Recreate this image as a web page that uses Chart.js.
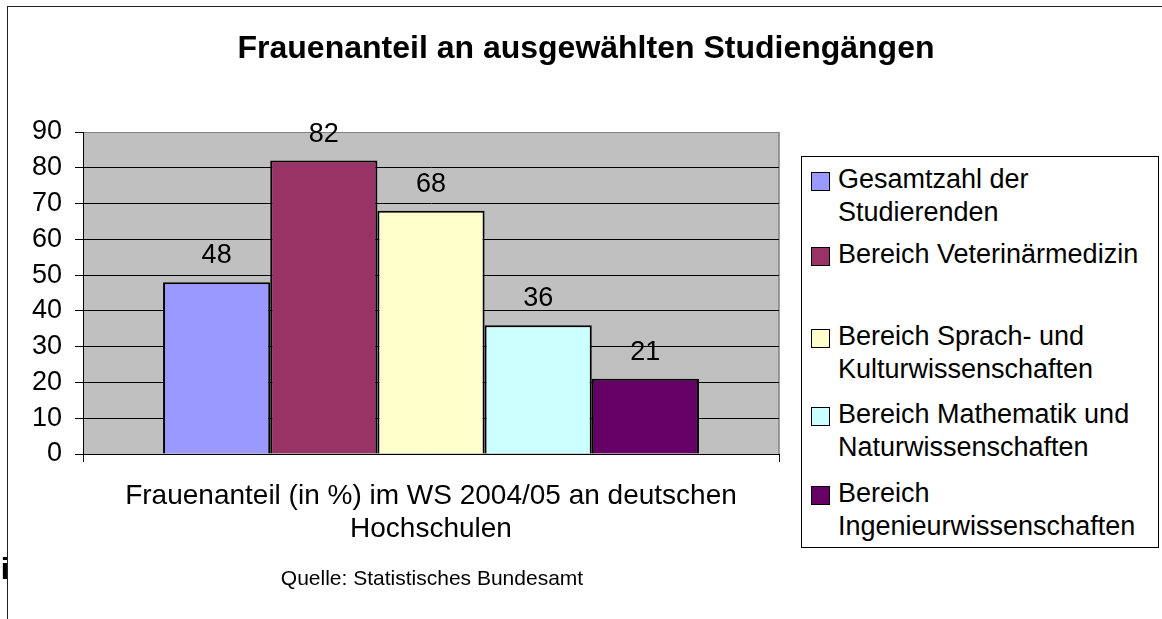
<!DOCTYPE html>
<html>
<head>
<meta charset="utf-8">
<script src="https://cdn.jsdelivr.net/npm/chart.js@4.4.0/dist/chart.umd.min.js"></script>
<style>
  body { margin: 0; background: #fff; font-family: "Liberation Sans", Arial, sans-serif; }
  #wrap { position: relative; width: 1162px; height: 619px; overflow: hidden; }
  #frame { position: absolute; left: 7px; top: 6px; width: 1300px; height: 800px; border-left: 1px solid #222; border-top: 1px solid #222; }
  #chartBox { position: absolute; left: 0; top: 0; width: 1162px; height: 619px; }
  #title { position: absolute; left: 7px; width: 1158px; top: 27px; line-height: 40px; font-size: 32px; font-weight: bold; text-align: center; color: #000; }
  #source { position: absolute; left: 232px; width: 400px; top: 566px; line-height: 24px; font-size: 21px; text-align: center; color: #000; }
  #cut { position: absolute; left: -100px; width: 109px; top: 554px; line-height: 30px; font-size: 30px; font-weight: bold; text-align: right; color: #000; }
  #legend { position: absolute; left: 801px; top: 156px; width: 356px; height: 390px; border: 1px solid #000; background: #fff; }
  .item { position: absolute; left: 0; width: 356px; font-size: 27px; line-height: 33px; color: #000; }
  .item .sw { position: absolute; left: 9px; top: 9px; width: 17px; height: 17px; border: 1px solid #000; }
  .item .txt { position: absolute; left: 36px; top: 0; white-space: nowrap; }
</style>
</head>
<body>
<div id="wrap">
  <div id="frame"></div>
  <div id="chartBox"><canvas id="chart-frauenanteil"></canvas></div>
  <div id="title"></div>
  <div id="source"></div>
  <div id="cut">bi</div>
  <div id="legend"></div>
</div>
<script>
// Data
var categories = [''];
var seriesNames = [
  ['Gesamtzahl der', 'Studierenden'],
  ['Bereich Veterinärmedizin'],
  ['Bereich Sprach- und', 'Kulturwissenschaften'],
  ['Bereich Mathematik und', 'Naturwissenschaften'],
  ['Bereich', 'Ingenieurwissenschaften']
];
var seriesValues = [48, 82, 68, 36, 21];
var yMin = 0, yMax = 90, yStep = 10;
var chartTitle = 'Frauenanteil an ausgewählten Studiengängen';
var xTitle = ['Frauenanteil (in %) im WS 2004/05 an deutschen', 'Hochschulen'];
var sourceText = 'Quelle: Statistisches Bundesamt';

// Styles
var colors = ['#9999ff', '#993366', '#ffffcc', '#ccffff', '#660066'];
var legendTops = [6, 81, 163, 241, 320]; // item tops inside the legend box
var fontFamily = '"Liberation Sans", Arial, sans-serif';

document.getElementById('title').textContent = chartTitle;
document.getElementById('source').textContent = sourceText;

// HTML legend (multi-line labels)
var legend = document.getElementById('legend');
seriesNames.forEach(function (lines, i) {
  var item = document.createElement('div');
  item.className = 'item';
  item.style.top = legendTops[i] + 'px';
  var sw = document.createElement('div');
  sw.className = 'sw';
  sw.style.background = colors[i];
  var txt = document.createElement('div');
  txt.className = 'txt';
  lines.forEach(function (line, j) {
    if (j > 0) txt.appendChild(document.createElement('br'));
    txt.appendChild(document.createTextNode(line));
  });
  item.appendChild(sw);
  item.appendChild(txt);
  legend.appendChild(item);
});

// gray plot area + gray right edge
var plotBg = {
  id: 'plotBg',
  beforeDraw: function (chart) {
    var ctx = chart.ctx, a = chart.chartArea;
    ctx.save();
    ctx.fillStyle = '#c0c0c0';
    ctx.fillRect(a.left, a.top, a.right - a.left, a.bottom - a.top);
    ctx.strokeStyle = '#808080';
    ctx.lineWidth = 1.5;
    ctx.beginPath();
    ctx.moveTo(a.right, a.top);
    ctx.lineTo(a.right, a.bottom);
    ctx.stroke();
    ctx.restore();
  }
};

// value labels above the bars
var valueLabels = {
  id: 'valueLabels',
  afterDatasetsDraw: function (chart) {
    var ctx = chart.ctx;
    ctx.save();
    ctx.font = '27px ' + fontFamily;
    ctx.fillStyle = '#000';
    ctx.textAlign = 'center';
    ctx.textBaseline = 'alphabetic';
    chart.data.datasets.forEach(function (ds, i) {
      var bar = chart.getDatasetMeta(i).data[0];
      ctx.fillText(String(ds.data[0]), bar.x, bar.y - 19);
    });
    ctx.restore();
  }
};

var ctx = document.getElementById('chart-frauenanteil').getContext('2d');
var myChart = new Chart(ctx, {
  type: 'bar',
  data: {
    labels: categories,
    datasets: seriesNames.map(function (name, i) {
      return {
        label: name.join(' '),
        data: [seriesValues[i]],
        backgroundColor: colors[i],
        borderColor: '#000',
        borderWidth: 2,
        categoryPercentage: 0.77,
        barPercentage: 1.0
      };
    })
  },
  options: {
    responsive: true,
    maintainAspectRatio: false,
    animation: false,
    layout: { padding: { left: 0, top: 132, right: 383, bottom: 73.5 } },
    plugins: {
      legend: { display: false },
      tooltip: { enabled: false }
    },
    scales: {
      x: {
        grid: { display: true, drawOnChartArea: false, drawTicks: true, tickLength: 8, color: '#000', offset: true },
        border: { display: true, color: '#000', width: 1 },
        ticks: { display: false },
        title: {
          display: true,
          text: xTitle,
          color: '#000',
          font: { size: 28, family: fontFamily, lineHeight: 1.18 },
          padding: 0
        },
        afterFit: function (s) { s.height = 91.5; }
      },
      y: {
        min: yMin,
        max: yMax,
        ticks: { stepSize: yStep, color: '#000', font: { size: 27, family: fontFamily }, padding: 13 },
        grid: {
          color: function (c) { return c.tick && c.tick.value === yMax ? '#808080' : '#000'; },
          tickColor: '#000',
          tickLength: 8,
          lineWidth: 1
        },
        border: { color: '#000', width: 1 },
        afterFit: function (s) { s.width = 83; }
      }
    }
  },
  plugins: [plotBg, valueLabels]
});
</script>
</body>
</html>
